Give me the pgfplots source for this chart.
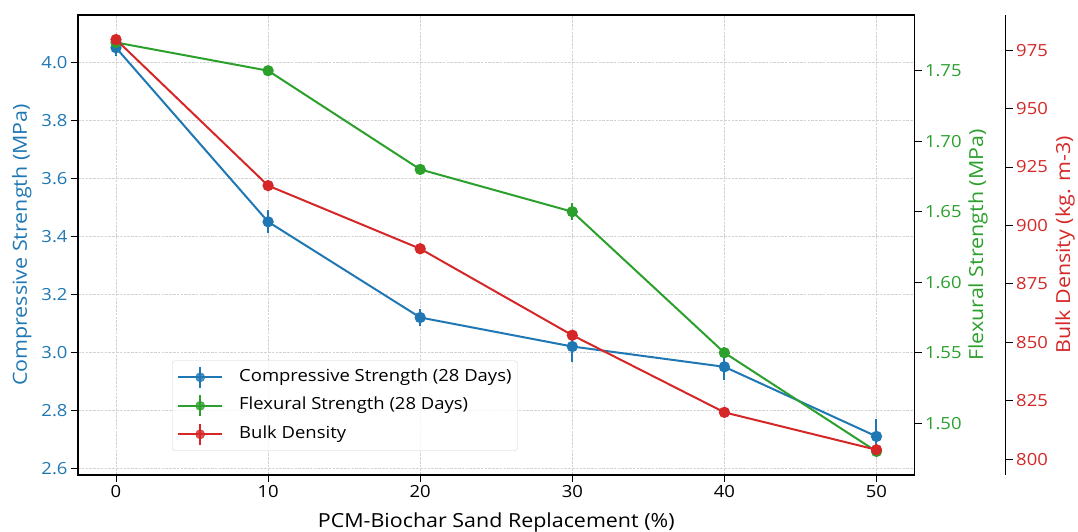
\documentclass[border=0pt]{standalone}
\usepackage{fontspec}
\setmainfont{Open Sans}[FakeStretch=1.105]
\usepackage{pgfplots}
\pgfplotsset{compat=1.18}

\definecolor{cblue}{HTML}{1F77B4}
\definecolor{cgreen}{HTML}{2CA02C}
\definecolor{cred}{HTML}{D62728}
\definecolor{gridgray}{HTML}{D3D3D3}

\newcommand{\tickfont}{\fontsize{16.7bp}{20bp}\selectfont}
\newcommand{\labfont}{\fontsize{19.4bp}{23bp}\selectfont}

\pgfplotsset{
  base/.style={
    scale only axis, width=836.5bp, height=460bp,
    at={(78bp,57bp)}, anchor=south west,
    xmin=-2.5, xmax=52.5,
    /pgf/number format/assume math mode=true,
    tick style={black, line width=0.8bp},
    major tick length=7bp,
    tick align=outside,
    ticklabel style={font=\tickfont},
    axis line style={line width=1.1bp},
  },
  ser/.style={line width=2bp, mark=*, mark size=4.6bp, mark options={solid}, #1,
    error bars/.cd, y dir=both, y explicit, error mark=none,
    error bar style={line width=2bp, #1}},
}

\begin{document}
\begin{tikzpicture}
\useasboundingbox (0,0) rectangle (1078bp,532bp);

% ---- Compressive strength (left axis) ----
\begin{axis}[base,
  ymin=2.577, ymax=4.163,
  xtick={0,10,20,30,40,50},
  ytick={2.6,2.8,3.0,3.2,3.4,3.6,3.8,4.0},
  xtick pos=left, ytick pos=left,
  yticklabel style={text=cblue, /pgf/number format/.cd, fixed, fixed zerofill, precision=1},
  xticklabel style={/pgf/number format/.cd, fixed, precision=0},
  grid=major,
  grid style={gridgray, line width=0.7bp, dash pattern=on 2.6bp off 1.2bp},
  xlabel={PCM-Biochar Sand Replacement (\%)},
  xlabel style={font=\labfont, at={([yshift=-52bp]axis description cs:0.5,0)}, anchor=base},
  ylabel={Compressive Strength (MPa)},
  ylabel style={font=\labfont, text=cblue, at={([xshift=-51bp]axis description cs:0,0.5)}, anchor=base},
]
\addplot[ser=cblue] coordinates {
  (0,4.05)  +- (0,0.03)
  (10,3.45) +- (0,0.04)
  (20,3.12) +- (0,0.03)
  (30,3.02) +- (0,0.055)
  (40,2.95) +- (0,0.045)
  (50,2.71) +- (0,0.06)
};
\end{axis}

% ---- Flexural strength (right axis) ----
\begin{axis}[base,
  axis x line=none, axis y line*=right,
  ymin=1.4633, ymax=1.7895,
  ytick={1.50,1.55,1.60,1.65,1.70,1.75},
  yticklabel style={text=cgreen, /pgf/number format/.cd, fixed, fixed zerofill, precision=2},
  ylabel={Flexural Strength (MPa)},
  ylabel style={font=\labfont, text=cgreen, at={([xshift=68.5bp]axis description cs:1,0.5)}, anchor=base},
]
\addplot[ser=cgreen] coordinates {
  (0,1.77)  +- (0,0.003)
  (10,1.75) +- (0,0.003)
  (20,1.68) +- (0,0.003)
  (30,1.65) +- (0,0.006)
  (40,1.55) +- (0,0.004)
  (50,1.48) +- (0,0.003)
};
\end{axis}

% ---- Bulk density (plot + legend) ----
\begin{axis}[base, hide axis,
  ymin=793.2, ymax=990,
  legend image code/.code={
    \draw[#1, line width=2bp] (0bp,0bp) -- (44bp,0bp);
    \draw[#1, line width=2bp, overlay] (22bp,-10.5bp) -- (22bp,10.5bp);
    \fill[#1] (22bp,0bp) circle (4.6bp);
  },
  legend style={at={(rel axis cs:0.1124,0.0522)}, anchor=south west,
    draw=gridgray, rounded corners=3bp, fill=white, fill opacity=0.8, text opacity=1,
    font=\tickfont, inner xsep=5bp, inner ysep=7.5bp, row sep=10.5bp, column sep=15bp,
    nodes={inner sep=1bp, text height=12bp, text depth=4bp}},
  legend cell align=left,
]
\addlegendimage{cblue}
\addlegendentry{Compressive Strength (28 Days)\hspace{4bp}}
\addlegendimage{cgreen}
\addlegendentry{Flexural Strength (28 Days)}
\addlegendimage{cred}
\addlegendentry{Bulk Density}
\addplot[forget plot, ser=cred] coordinates {
  (0,979.5) +- (0,1)
  (10,917)  +- (0,1)
  (20,890)  +- (0,1)
  (30,853)  +- (0,1)
  (40,820)  +- (0,1)
  (50,804)  +- (0,1)
};
\end{axis}

% ---- Bulk density outer spine ----
\begin{axis}[base, width=927.7bp,
  hide x axis, axis y line*=right,
  ymin=793.2, ymax=990,
  ytick={800,825,850,875,900,925,950,975},
  yticklabel style={text=cred},
  ylabel={Bulk Density (kg. m-3)},
  ylabel style={font=\labfont, text=cred, at={([xshift=64.3bp]axis description cs:1,0.5)}, anchor=base},
]
\end{axis}
\end{tikzpicture}
\end{document}
